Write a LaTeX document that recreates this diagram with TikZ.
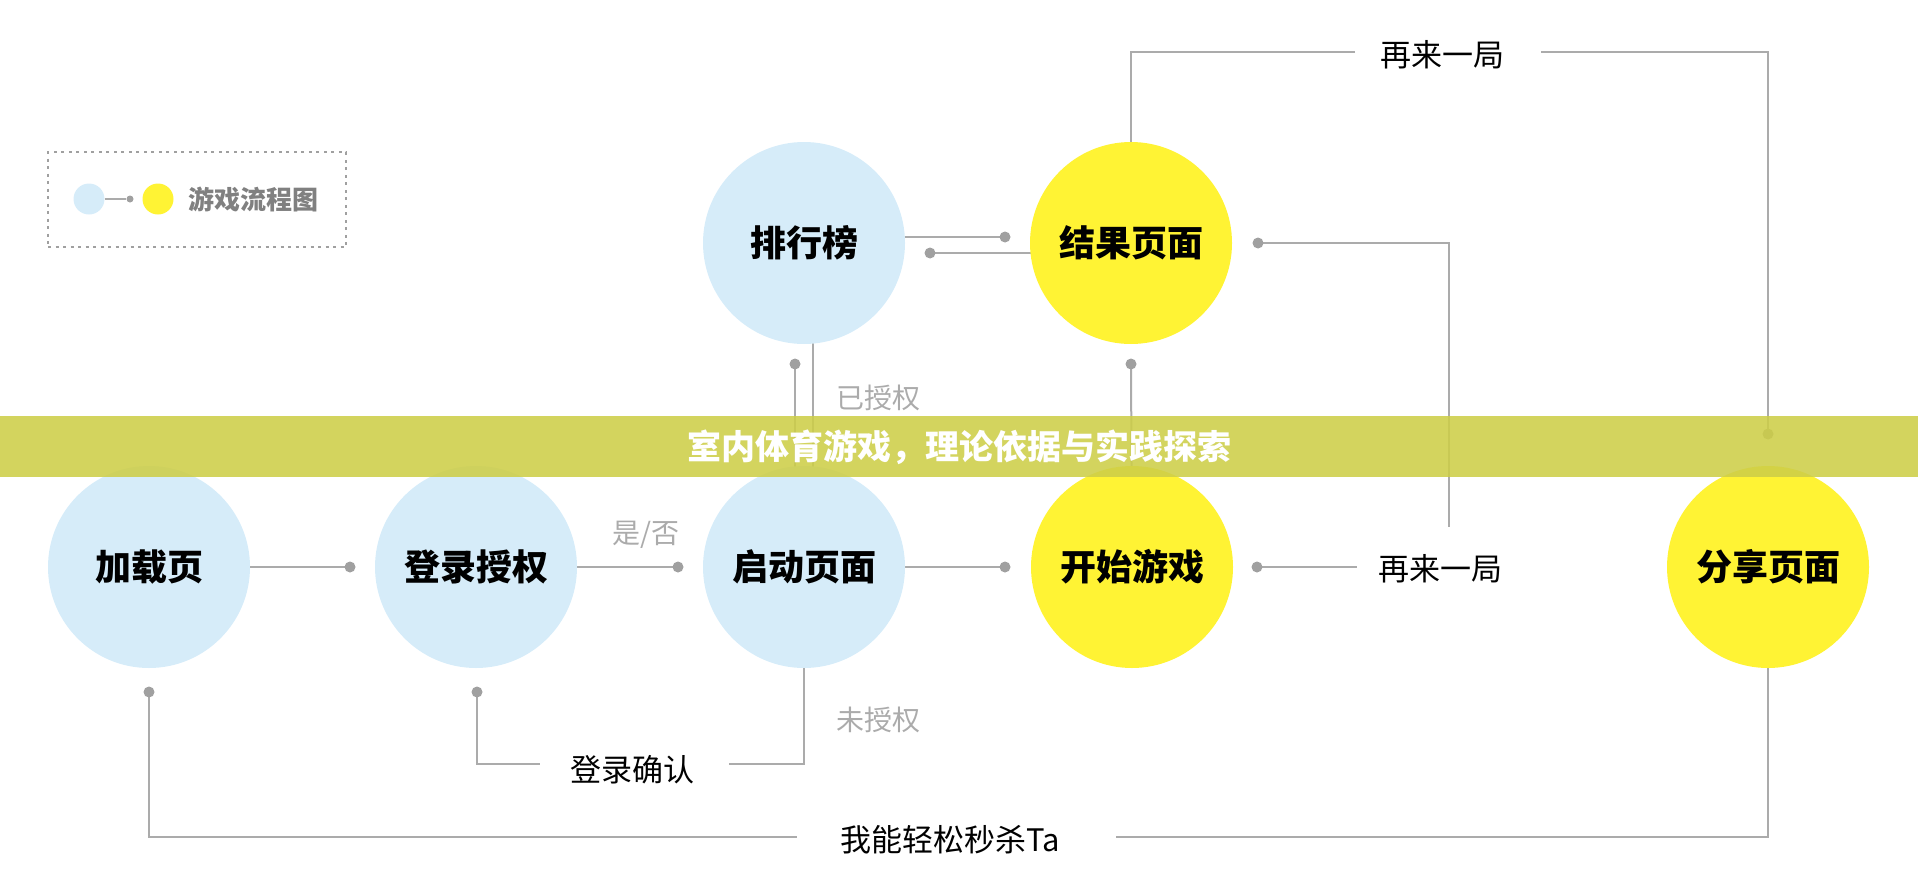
\documentclass[tikz,border=0pt]{standalone}
\usepackage{fontspec}
\newfontfamily\cjk{Noto Sans CJK SC}
\usetikzlibrary{backgrounds}
\definecolor{cblue}{HTML}{D6ECF9}
\definecolor{cyel}{HTML}{FFF334}
\definecolor{cline}{HTML}{ABABAB}
\definecolor{cdot}{HTML}{A0A0A0}
\definecolor{clab}{HTML}{ABABAB}
\definecolor{cband}{HTML}{CDCE48}
\definecolor{clegend}{HTML}{808080}
\begin{document}
\begin{tikzpicture}[x=1pt,y=-1pt,
  bubble/.style={circle,minimum size=202pt,inner sep=0pt,font=\cjk\bfseries\fontsize{36}{40}\selectfont},
  bluebub/.style={bubble,fill=cblue},
  yelbub/.style={bubble,fill=cyel},
  gdot/.style={circle,fill=cdot,minimum size=11pt,inner sep=0pt},
  conn/.style={draw=cline,line width=2pt},
  lbl/.style={font=\cjk\fontsize{31}{34}\selectfont,text=black,inner sep=0pt},
  glbl/.style={font=\cjk\fontsize{28}{30}\selectfont,text=clab,inner sep=0pt}]
\useasboundingbox (0,0) rectangle (1918,894);

% legend
\node[draw=cdot,line width=2pt,dash pattern=on 3pt off 4.5pt,minimum width=298pt,minimum height=95pt,inner sep=0pt] (legend) at (197,199.5) {};
\node[circle,fill=cblue,minimum size=31pt,inner sep=0pt] (lb) at (89,199) {};
\node[gdot,minimum size=7pt] (ld) at (130,199) {};
\node[circle,fill=cyel,minimum size=31pt,inner sep=0pt] (ly) at (158,199) {};
\node[anchor=west,inner sep=0pt,font=\cjk\bfseries\fontsize{26}{28}\selectfont,text=clegend] (lt) at (188,199) {游戏流程图};
\draw[conn,line width=1.5pt] (lb) -- (ld);

% bubbles
\node[bluebub] (load) at (149,567) {加载页};
\node[bluebub] (login) at (476,567) {登录授权};
\node[bluebub] (start) at (804,567) {启动页面};
\node[yelbub] (play) at (1132,567) {开始游戏};
\node[yelbub] (share) at (1768,567) {分享页面};
\node[bluebub] (rank) at (804,243) {排行榜};
\node[yelbub] (result) at (1131,243) {结果页面};

% dots
\node[gdot] (d1) at (350,567) {};
\node[gdot] (d2) at (678,567) {};
\node[gdot] (d3) at (1005,567) {};
\node[gdot] (d4) at (1257,567) {};
\node[gdot] (d5) at (1005,237) {};
\node[gdot] (d6) at (930,253) {};
\node[gdot] (d7) at (1258,243) {};
\node[gdot] (d8) at (795,364) {};
\node[gdot] (d9) at (1131,364) {};
\node[gdot] (d10) at (1768,434) {};
\node[gdot] (d11) at (477,692) {};
\node[gdot] (d12) at (149,692) {};

% free ends
\coordinate (a1l) at (1357,567);
\coordinate (c7) at (1449,527);
\coordinate (a2l) at (1355,52);
\coordinate (a2r) at (1541,52);
\coordinate (cfl) at (540,764);
\coordinate (cfr) at (729,764);
\coordinate (kl) at (797,837);
\coordinate (kr) at (1116,837);

% labels
\node[lbl] (again1) at (1440,569) {再来一局};
\node[lbl] (again2) at (1442,55) {再来一局};
\node[lbl] (confirm) at (632,770) {登录确认};
\node[lbl] (kill) at (950,840) {我能轻松秒杀Ta};
\node[glbl] (yesno) at (646,535) {是/否};
\node[glbl] (auth) at (878,398) {已授权};
\node[glbl] (unauth) at (878,720) {未授权};

\begin{scope}[on background layer]
\draw[conn] (load.center) -- (d1.center);
\draw[conn] (login.center) -- (d2.center);
\draw[conn] (start.center) -- (d3.center);
\draw[conn] (d4.center) -- (a1l);
\draw[conn] (d5 -| rank.center) -- (d5.center);
\draw[conn] (d6.center) -- (d6 -| result.center);
\draw[conn] (d7.center) -| (c7);
\draw[conn] (d8.center) -- (d8 |- start.center);
\draw[conn] ([xshift=9pt]rank.center) -- ([xshift=9pt]start.center);
\draw[conn] (d9.center) -- (play.center);
\draw[conn] (d10.center) |- (a2r);
\draw[conn] (a2l) -| (result.center);
\draw[conn] (d11.center) |- (cfl);
\draw[conn] (cfr) -| (start.center);
\draw[conn] (d12.center) |- (kl);
\draw[conn] (kr) -| (share.center);
\end{scope}

% banner
\fill[cband,opacity=0.88] (0,416) rectangle (1918,477);
\node[font=\cjk\bfseries\fontsize{34}{38}\selectfont,text=white,inner sep=0pt] (title) at (959,447) {室内体育游戏，理论依据与实践探索};
\end{tikzpicture}
\end{document}
